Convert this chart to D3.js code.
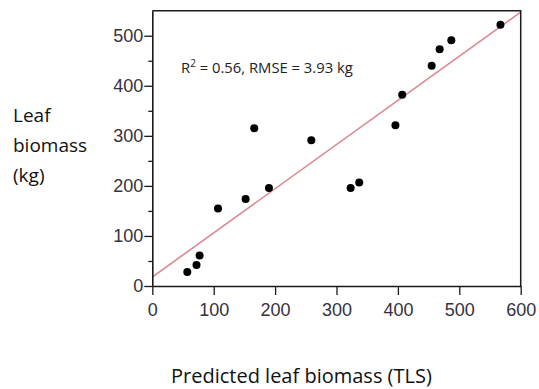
<!DOCTYPE html>
<html>
<head>
<meta charset="utf-8">
<script src="https://cdn.jsdelivr.net/npm/d3@7"></script>
<style>
  html, body { margin: 0; padding: 0; background: #fff; }
  svg { display: block; }
</style>
</head>
<body>
<svg id="chart" width="539" height="389"></svg>
<script>
// Data
const predicted = [57, 72, 77, 107, 152, 190, 323, 337, 166, 259, 396, 407, 455, 468, 487, 567];
const observed  = [28, 42, 61, 155, 174, 196, 196, 207, 315, 291, 321, 382, 440, 473, 491, 522];
const xTicks = [0, 100, 200, 300, 400, 500, 600];
const yTicks = [0, 100, 200, 300, 400, 500];
const yMinorTicks = [50, 150, 250, 350, 450];
const fitLine = { intercept: 18, slope: 0.882 };
const yTitleLines = ["Leaf", "biomass", "(kg)"];
const xTitle = "Predicted leaf biomass (TLS)";

const svg = d3.select("#chart");
const pLeft = 152.3, pRight = 520.7, pTop = 10.7, pBottom = 286;

const x = d3.scaleLinear().domain([0, 600]).range([pLeft, pRight]);
const y = d3.scaleLinear().domain([0, 550]).range([pBottom, pTop]);

// regression line clipped to plot area
svg.append("clipPath").attr("id", "clip")
  .append("rect").attr("x", pLeft).attr("y", pTop)
  .attr("width", pRight - pLeft).attr("height", pBottom - pTop);

svg.append("line")
  .attr("clip-path", "url(#clip)")
  .attr("x1", x(0)).attr("y1", y(fitLine.intercept))
  .attr("x2", x(600)).attr("y2", y(fitLine.intercept + fitLine.slope * 600))
  .attr("stroke", "#d98a91").attr("stroke-width", 1.6);

// frame top & right
svg.append("path")
  .attr("d", `M${pLeft},${pTop}H${pRight}V${pBottom}`)
  .attr("fill", "none").attr("stroke", "#1a1a1a").attr("stroke-width", 1.5);

// axes
const yAxis = d3.axisLeft(y).tickValues(yTicks).tickSize(8).tickPadding(1).tickSizeOuter(0);
const gy = svg.append("g").attr("transform", `translate(${pLeft},0)`).call(yAxis);
const yMinor = d3.axisLeft(y).tickValues(yMinorTicks).tickSize(4).tickFormat("").tickSizeOuter(0);
const gym = svg.append("g").attr("transform", `translate(${pLeft},0)`).call(yMinor);
gym.select(".domain").remove();

const xAxis = d3.axisBottom(x).tickValues(xTicks).tickSize(9).tickPadding(8).tickSizeOuter(0);
const gx = svg.append("g").attr("transform", `translate(0,${pBottom})`).call(xAxis);

[gy, gx, gym].forEach(g => {
  g.selectAll(".domain").attr("stroke", "#1a1a1a").attr("stroke-width", 1.6);
  g.selectAll(".tick line").attr("stroke", "#1a1a1a").attr("stroke-width", 1.3);
  g.selectAll(".tick text")
    .attr("fill", "#35323d")
    .style("font-family", "'Liberation Sans', Arial, sans-serif")
    .style("font-size", "18px");
});

// points
svg.append("g").selectAll("circle")
  .data(predicted.map((p, i) => [p, observed[i]]))
  .join("circle")
  .attr("cx", d => x(d[0]))
  .attr("cy", d => y(d[1]))
  .attr("r", 4)
  .attr("fill", "#000");

// annotation
const ann = svg.append("text")
  .attr("x", 181).attr("y", 73)
  .attr("fill", "#222")
  .style("font-family", "'Open Sans', sans-serif")
  .style("font-size", "14.8px");
ann.append("tspan").text("R");
ann.append("tspan").attr("dy", -6).style("font-size", "10px").text("2");
ann.append("tspan").attr("dy", 6).text(" = 0.56, RMSE = 3.93 kg");

// y title
svg.append("g").selectAll("text")
  .data(yTitleLines)
  .join("text")
  .attr("x", 13)
  .attr("y", (d, i) => 122 + i * 30)
  .attr("fill", "#111")
  .style("font-family", "'Open Sans', sans-serif")
  .style("font-size", "19px")
  .text(d => d);

// x title
svg.append("text")
  .attr("x", 171).attr("y", 383)
  .attr("fill", "#111")
  .style("font-family", "'Open Sans', sans-serif")
  .style("font-size", "20px")
  .text(xTitle);
</script>
</body>
</html>
